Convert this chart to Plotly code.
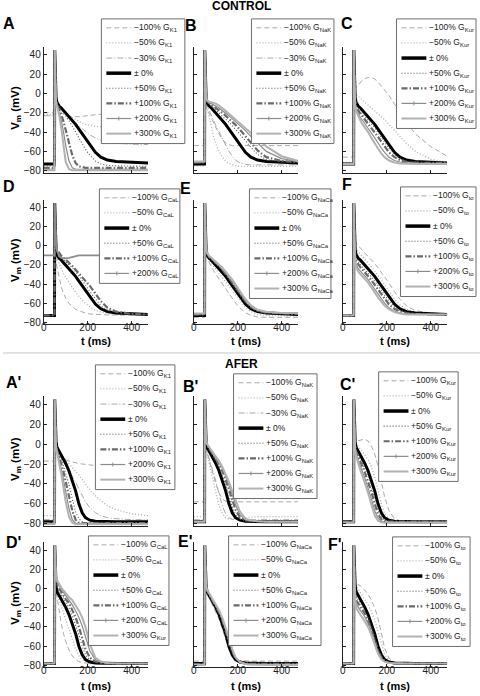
import plotly.graph_objects as go

W, H = 480, 696

# ---------------- data (time grid in ms, membrane potential in mV) ----------------
T = [0, 49, 50, 51, 53, 56, 60, 70, 80, 90, 100, 115, 130, 145, 160, 175, 190, 210, 235, 260, 290, 330, 400, 475]

CTRL_0 = [-73, -73, 45, 30, 10, -4, -9, -13, -15, -17.5, -20, -23.5, -27.5, -32, -37, -42, -47, -54, -61, -66, -69, -70.5, -71.5, -72]
AFER_0 = [-78, -78, 45, 32, 15, 3, -3, -7, -11, -15, -19.5, -27, -36, -47, -60, -69, -74, -76.5, -77.5, -77.8, -78, -78, -78, -78]

# CONTROL, G_K1
A_m100 = [-20, -20, 45, 30, 8, -8, -14, -18, -20, -21.5, -22.5, -23.5, -24, -24, -24, -23.5, -23, -22.5, -22, -21.5, -21, -20.5, -20, -19.5]
A_m50 = [-22, -22, 45, 30, 8, -6, -12, -15, -17, -19, -21, -23, -25, -27, -29, -30.5, -32, -33, -34, -34.5, -35, -35, -35, -35]
A_m30 = [-23, -23, 45, 30, 9, -5, -10, -14, -17, -19.5, -22, -25, -28, -31, -34, -37, -40, -43, -46, -48.5, -50, -51.5, -52.5, -53]
A_p50 = [-75, -75, 45, 30, 8, -5, -10, -14, -17, -20, -23, -28, -34, -40, -46, -52, -58, -64, -70, -73, -74.5, -75, -75.5, -75.5]
A_p100 = [-77, -77, 45, 30, 8, -6, -11, -16, -22, -29, -37, -51, -64, -72, -75.5, -76.5, -77, -77, -77, -77, -77, -77, -77, -77]
A_p200 = [-78.5, -78.5, 45, 29, 7, -7, -12, -19, -28, -40, -54, -70, -77, -78.5, -78.5, -78.5, -78.5, -78.5, -78.5, -78.5, -78.5, -78.5, -78.5, -78.5]
A_p300 = [-79.5, -79.5, 45, 28, 6, -8, -13, -22, -36, -55, -71, -78.5, -79.5, -79.5, -79.5, -79.5, -79.5, -79.5, -79.5, -79.5, -79.5, -79.5, -79.5, -79.5]

# CONTROL, G_NaK
B_m100 = [-54, -54, 45, 30, 8, -8, -16, -21, -26, -31, -36, -42, -47.5, -51, -53, -54, -54, -54, -54, -54, -54, -54, -54, -54]
B_m50 = [-75, -75, 45, 30, 8, -8, -14, -24, -36, -45, -52, -60, -66, -70, -72.5, -74, -75, -75.5, -75.5, -75.5, -75.5, -75.5, -75.5, -75.5]
B_m30 = [-74, -74, 45, 30, 8, -7, -12, -18, -23, -28, -33, -40, -47, -54, -60, -65, -69, -72, -73.5, -74, -74, -74, -74, -74]
B_p50 = [-72, -72, 45, 30, 10, -3, -8, -11, -13, -15, -17, -20, -23, -26, -29.5, -33, -37, -42, -49, -56, -63, -68.5, -71, -71.5]
B_p100 = [-71.5, -71.5, 45, 30, 10, -3, -8, -10.5, -12, -13.5, -15, -17.5, -20, -23, -26, -29, -32.5, -37.5, -44, -51, -59, -66, -70, -71]
B_p200 = [-71, -71, 45, 30, 10, -2, -7, -9.5, -10.5, -11.5, -13, -15, -17.5, -20, -23, -26, -29, -33, -38.5, -44.5, -51.5, -60, -67.5, -70.5]
B_p300 = [-70.5, -70.5, 45, 30, 10, -2, -7, -8.5, -9, -9.5, -10.5, -12.5, -15, -18, -21, -24, -27, -31, -36, -41, -47, -55, -65, -70]

# CONTROL, G_Kur
C_m100 = [-66, -66, 45, 35, 20, 10, 6, 9, 12, 14, 15.5, 16.5, 16.5, 15, 12, 8, 4, -2, -11, -20, -30, -42, -55, -65]
C_m50 = [-71.5, -71.5, 45, 33, 15, 3, -1, -3, -5, -7, -9, -12, -14.5, -17, -20, -23, -27, -32, -38, -44, -52, -60, -68, -71.5]
C_p50 = [-73, -73, 45, 30, 8, -7, -12, -16, -18.5, -21, -23.5, -27, -31, -35.5, -40.5, -45.5, -50.5, -57, -63, -67, -70, -71, -72, -72]
C_p100 = [-73, -73, 45, 30, 8, -8, -14, -18, -21, -24, -27, -31, -35, -40, -45, -50, -55, -61, -66, -69, -71, -72, -72, -72]
C_p200 = [-73, -73, 45, 29, 7, -10, -16, -21, -25, -28, -31, -36, -41, -46, -51.5, -56.5, -61, -66, -69.5, -71, -72, -72.5, -72.5, -72.5]
C_p300 = [-73, -73, 45, 28, 6, -12, -18, -24, -28, -32, -35, -40, -46, -52, -57, -62, -66, -69.5, -71.5, -72.5, -73, -73, -73, -73]

# CONTROL, G_CaL
D_m100 = [-73, -73, 45, 25, 0, -15, -22, -33, -43, -50, -55, -60.5, -64, -66.5, -68, -69.5, -70.5, -71.5, -72, -72.5, -72.5, -72.5, -72.5, -72.5]
D_m50 = [-73, -73, 45, 28, 5, -8, -13, -19, -24, -29, -33, -38.5, -43.5, -48.5, -53, -57, -60.5, -64, -67.5, -69.5, -71, -72, -72, -72]
D_p50 = [-73, -73, 45, 32, 12, 0, -6, -10, -12.5, -14.5, -16.5, -19.5, -23, -27, -31.5, -36, -41, -48, -56, -63, -67.5, -70, -71.5, -72]
D_p100 = [-73, -73, 45, 33, 15, 3, -4, -8, -10.5, -12.5, -14.5, -17.5, -21, -25, -29, -33, -37, -42, -50, -58, -65, -69, -71.5, -72]
D_p200 = [-10, -10, 45, 35, 18, 5, -5, -11, -12.5, -13, -13, -12.5, -11.5, -10.5, -10, -10, -10, -10, -10, -10, -10, -10, -10, -10]

# CONTROL, G_NaCa
E_m100 = [-75, -75, 45, 30, 8, -7, -13, -18, -22, -26, -30, -35, -40, -45, -50, -55, -60, -65, -70, -73, -74.5, -75, -75, -75]
E_m50 = [-74, -74, 45, 30, 9, -5, -11, -15.5, -18.5, -21.5, -24.5, -28.5, -33, -37.5, -42, -47, -52, -58, -64.5, -69, -72, -73, -73.5, -73.5]
E_p50 = [-72.5, -72.5, 45, 30, 10, -3, -8, -12, -14, -16, -18.5, -22, -26, -30, -35, -40, -45, -52, -59.5, -65, -68.5, -70.5, -71.5, -72]
E_p100 = [-72, -72, 45, 30, 10, -3, -8, -11.5, -13.5, -15.5, -18, -21, -25, -29, -33.5, -38.5, -43.5, -50.5, -58, -64, -68, -70, -71, -71.5]
E_p200 = [-71.5, -71.5, 45, 30, 10, -3, -7.5, -11, -13, -15, -17, -20, -24, -28, -32, -37, -42, -49, -57, -63.5, -67.5, -69.5, -70.5, -71]
E_p300 = [-71, -71, 45, 30, 10, -2, -7, -10.5, -12.5, -14.5, -16.5, -19.5, -23, -27, -31, -35.5, -40.5, -47.5, -56, -62.5, -67, -69, -70.5, -70.5]

# CONTROL, G_to
F_m100 = [-73, -73, 45, 35, 18, 8, 3, 0, -2.5, -5, -7.5, -11, -14.5, -18.5, -23, -27.5, -32.5, -39, -48, -56, -63, -68, -70.5, -71.5]
F_m50 = [-73, -73, 45, 33, 13, 1, -3, -6.5, -9, -11.5, -14, -17.5, -21.5, -26, -31, -36, -41, -48, -56, -62, -66.5, -69.5, -71, -71.5]
F_p50 = [-73, -73, 45, 28, 5, -9, -13, -17, -19.5, -22, -24.5, -28.5, -32.5, -37, -42, -47, -52, -58, -64, -67.5, -70, -71, -71.5, -72]
F_p100 = [-73, -73, 45, 26, 2, -12, -16, -20, -22.5, -25, -27.5, -31.5, -36, -41, -46, -51, -56, -61.5, -66, -69, -70.5, -71.5, -72, -72]
F_p200 = [-73, -73, 45, 24, 0, -15, -19, -24, -26.5, -29, -31.5, -35.5, -40.5, -45.5, -50.5, -55.5, -60, -65, -68.5, -70.5, -71.5, -72, -72, -72]
F_p300 = [-73, -73, 45, 22, -2, -18, -22, -27, -29.5, -32, -34.5, -38.5, -43.5, -49, -54, -58.5, -62.5, -66.5, -69.5, -71, -72, -72, -72, -72]

# AFER, G_K1
Ap_m100 = [-17, -17, 45, 32, 14, 2, -5, -10, -13, -15, -16, -17, -18, -19, -19.5, -20, -20.5, -21, -21.5, -22, -22, -22, -22, -22]
Ap_m50 = [-72, -72, 45, 32, 14, 2, -4, -8, -11, -13.5, -16, -19.5, -23, -27, -31, -35.5, -40, -46, -52, -57, -62, -66, -70, -72]
Ap_m30 = [-76, -76, 45, 32, 14, 2, -4, -8.5, -13, -17.5, -22, -27, -32, -38, -45, -52, -58, -64, -69, -72, -74, -75, -76, -76]
Ap_p50 = [-79, -79, 45, 32, 14, 1, -5, -10, -16, -22, -29, -41, -55, -68, -75, -78, -79, -79, -79, -79, -79, -79, -79, -79]
Ap_p100 = [-79.5, -79.5, 45, 31, 13, 0, -6, -12, -20, -28, -37, -52, -67, -76, -79, -79.5, -79.5, -79.5, -79.5, -79.5, -79.5, -79.5, -79.5, -79.5]
Ap_p200 = [-80, -80, 45, 30, 12, -1, -7, -15, -25, -36, -48, -65, -76, -79.5, -80, -80, -80, -80, -80, -80, -80, -80, -80, -80]
Ap_p300 = [-80.5, -80.5, 45, 30, 11, -2, -8, -18, -30, -44, -58, -73, -79, -80.5, -80.5, -80.5, -80.5, -80.5, -80.5, -80.5, -80.5, -80.5, -80.5, -80.5]

# AFER, G_NaK
Bp_m100 = [-58, -58, 45, 32, 14, 0, -8, -16, -24, -32, -40, -49, -55, -57.5, -58, -58, -58, -58, -58, -58, -58, -58, -58, -58]
Bp_m50 = [-73, -73, 45, 31, 12, -3, -10, -20, -30, -40, -50, -62, -70, -74, -75.5, -75.5, -75, -74.5, -74, -73.5, -73, -73, -73, -73]
Bp_m30 = [-76, -76, 45, 31, 13, -1, -7, -14, -21, -29, -37, -50, -62, -70, -74, -75.5, -76, -76, -76, -76, -76, -76, -76, -76]
Bp_p50 = [-78, -78, 45, 32, 16, 4, -2, -5.5, -9, -12.5, -16.5, -23, -31, -40.5, -52, -63, -71, -75.5, -77, -77.5, -77.8, -78, -78, -78]
Bp_p100 = [-78, -78, 45, 33, 17, 5, -1, -4.5, -7.5, -11, -14.5, -20, -27, -35.5, -45, -56, -66, -73.5, -76.5, -77.3, -77.7, -78, -78, -78]
Bp_p200 = [-78, -78, 45, 33, 18, 6, 0, -3.5, -6.5, -9.5, -13, -18, -24.5, -32, -40.5, -50.5, -61, -71, -76, -77, -77.5, -78, -78, -78]
Bp_p300 = [-78, -78, 45, 33, 18, 6, 0, -3, -6, -9, -12, -17, -23, -30, -38, -47, -57, -68, -75, -76.8, -77.5, -78, -78, -78]

# AFER, G_Kur
Cp_m100 = [-77, -77, 45, 35, 20, 8, 3, 3.5, 4.5, 5, 5, 3, -2, -10, -22, -38, -53, -67, -75, -77, -77.5, -77.5, -77.5, -77.5]
Cp_m50 = [-78, -78, 45, 33, 17, 5, 0, -2, -5, -8, -11, -16, -23, -33, -46, -60, -70, -75.5, -77.5, -78, -78, -78, -78, -78]
Cp_p50 = [-78, -78, 45, 31, 13, 0, -5, -10, -14.5, -19, -24, -32.5, -42, -54, -66, -73, -76.5, -77.5, -78, -78, -78, -78, -78, -78]
Cp_p100 = [-78, -78, 45, 30, 11, -2, -7, -13, -18, -23, -28.5, -37.5, -48, -60, -70.5, -75.5, -77.3, -78, -78, -78, -78, -78, -78, -78]
Cp_p200 = [-78.5, -78.5, 45, 29, 9, -4, -10, -17, -23, -28.5, -34, -44, -55, -67, -74.5, -77.5, -78.3, -78.5, -78.5, -78.5, -78.5, -78.5, -78.5, -78.5]
Cp_p300 = [-79, -79, 45, 28, 7, -6, -12, -20, -26.5, -32.5, -38.5, -49, -61, -71.5, -77, -78.5, -79, -79, -79, -79, -79, -79, -79, -79]

# AFER, G_CaL
Dp_m100 = [-78, -78, 45, 28, 8, -3, -8, -24, -37, -47, -55, -64, -70, -74, -76, -77, -77.5, -78, -78, -78, -78, -78, -78, -78]
Dp_m50 = [-78, -78, 45, 30, 11, 0, -5, -12, -19, -26, -33, -44, -54, -63, -70, -74, -76, -77.5, -78, -78, -78, -78, -78, -78]
Dp_p50 = [-78, -78, 45, 33, 17, 6, 1, -3, -7, -11, -15, -20, -28, -37, -48, -60, -69, -74.5, -77, -77.5, -78, -78, -78, -78]
Dp_p100 = [-78, -78, 45, 34, 19, 9, 4, 0, -4, -7.5, -11, -15, -22, -30, -40, -52, -63, -72, -76, -77.3, -78, -78, -78, -78]
Dp_p200 = [-78, -78, 45, 35, 21, 11, 7, 2.5, -1, -4, -7, -12, -17, -23, -30, -39, -50, -65, -74, -76.5, -77.5, -78, -78, -78]
Dp_p300 = [-78, -78, 45, 36, 22, 13, 9, 4.5, 1, -2, -5, -9, -12, -17, -23, -30, -40, -58, -72, -76, -77.5, -78, -78, -78]

# AFER, G_NaCa
Ep_m100 = [-75.5, -75.5, 45, 31, 13, 0, -5, -10, -14.5, -19, -24, -32, -42, -53, -64, -71, -74, -75, -75.5, -75.5, -75.5, -75.5, -75.5, -75.5]
Ep_m50 = [-77, -77, 45, 32, 14, 2, -4, -8.5, -12.5, -17, -21.5, -29.5, -39, -50, -62, -70, -74, -76, -76.8, -77, -77, -77, -77, -77]
Ep_p50 = [-78.3, -78.3, 45, 32, 15, 3, -2.5, -6.5, -10.5, -14.5, -18.5, -25.5, -34, -44.5, -57, -67, -73, -76.5, -77.8, -78.2, -78.3, -78.3, -78.3, -78.3]
Ep_p100 = [-78.5, -78.5, 45, 32, 15, 3.5, -2, -6, -10, -14, -18, -24.5, -33, -43, -55, -65.5, -72.5, -76.5, -78, -78.4, -78.5, -78.5, -78.5, -78.5]
Ep_p200 = [-79, -79, 45, 32, 16, 4, -1.5, -5.5, -9.5, -13, -17, -23.5, -31.5, -41.5, -53, -64, -72, -76.5, -78.3, -78.8, -79, -79, -79, -79]
Ep_p300 = [-79.5, -79.5, 45, 33, 16, 4.5, -1, -5, -9, -12.5, -16, -22.5, -30.5, -40, -51.5, -63, -71.5, -76.5, -78.5, -79.2, -79.5, -79.5, -79.5, -79.5]

# AFER, G_to
Fp_m100 = [-78, -78, 45, 36, 22, 12, 7, 4, 3, 1, -1.5, -6, -12, -20, -31, -46, -62, -72.5, -76.5, -77.5, -78, -78, -78, -78]
Fp_m50 = [-78, -78, 45, 34, 18, 8, 3, -1.5, -4.5, -8, -11.5, -17, -24, -33, -45, -58, -68.5, -75, -77.3, -77.8, -78, -78, -78, -78]
Fp_p50 = [-78, -78, 45, 30, 11, -3, -8, -11.5, -15, -18.5, -23, -30.5, -39.5, -50.5, -62.5, -70.5, -75, -77, -77.7, -78, -78, -78, -78, -78]
Fp_p100 = [-78, -78, 45, 29, 9, -6, -12, -15.5, -19, -22, -26, -33.5, -42.5, -53.5, -64.5, -71.5, -75.5, -77.2, -77.8, -78, -78, -78, -78, -78]
Fp_p200 = [-78, -78, 45, 28, 7, -9, -16, -20, -23, -26, -29.5, -36.5, -45.5, -56, -66.5, -72.5, -76, -77.3, -77.8, -78, -78, -78, -78, -78]
Fp_p300 = [-78, -78, 45, 27, 5, -12, -20, -24.5, -27.5, -30.5, -34, -40, -48.5, -58, -68, -73.5, -76.3, -77.5, -77.9, -78, -78, -78, -78, -78]

X_TICKS = [0, 200, 400]
Y_TICKS = [-80, -60, -40, -20, 0, 20, 40]

LEVEL_TEXT = {'m100': '\u2212100%', 'm50': '\u221250%', 'm30': '\u221230%', '0': '\u00b1 0%',
              'p50': '+50%', 'p100': '+100%', 'p200': '+200%', 'p300': '+300%'}

PANELS = [
    ("A", 0, 0, "K1", [("m100", A_m100), ("m50", A_m50), ("m30", A_m30), ("0", CTRL_0), ("p50", A_p50), ("p100", A_p100), ("p200", A_p200), ("p300", A_p300)]),
    ("B", 0, 1, "NaK", [("m100", B_m100), ("m50", B_m50), ("m30", B_m30), ("0", CTRL_0), ("p50", B_p50), ("p100", B_p100), ("p200", B_p200), ("p300", B_p300)]),
    ("C", 0, 2, "Kur", [("m100", C_m100), ("m50", C_m50), ("0", CTRL_0), ("p50", C_p50), ("p100", C_p100), ("p200", C_p200), ("p300", C_p300)]),
    ("D", 1, 0, "CaL", [("m100", D_m100), ("m50", D_m50), ("0", CTRL_0), ("p50", D_p50), ("p100", D_p100), ("p200", D_p200)]),
    ("E", 1, 1, "NaCa", [("m100", E_m100), ("m50", E_m50), ("0", CTRL_0), ("p50", E_p50), ("p100", E_p100), ("p200", E_p200), ("p300", E_p300)]),
    ("F", 1, 2, "to", [("m100", F_m100), ("m50", F_m50), ("0", CTRL_0), ("p50", F_p50), ("p100", F_p100), ("p200", F_p200), ("p300", F_p300)]),
    ("A'", 2, 0, "K1", [("m100", Ap_m100), ("m50", Ap_m50), ("m30", Ap_m30), ("0", AFER_0), ("p50", Ap_p50), ("p100", Ap_p100), ("p200", Ap_p200), ("p300", Ap_p300)]),
    ("B'", 2, 1, "NaK", [("m100", Bp_m100), ("m50", Bp_m50), ("m30", Bp_m30), ("0", AFER_0), ("p50", Bp_p50), ("p100", Bp_p100), ("p200", Bp_p200), ("p300", Bp_p300)]),
    ("C'", 2, 2, "Kur", [("m100", Cp_m100), ("m50", Cp_m50), ("0", AFER_0), ("p50", Cp_p50), ("p100", Cp_p100), ("p200", Cp_p200), ("p300", Cp_p300)]),
    ("D'", 3, 0, "CaL", [("m100", Dp_m100), ("m50", Dp_m50), ("0", AFER_0), ("p50", Dp_p50), ("p100", Dp_p100), ("p200", Dp_p200), ("p300", Dp_p300)]),
    ("E'", 3, 1, "NaCa", [("m100", Ep_m100), ("m50", Ep_m50), ("0", AFER_0), ("p50", Ep_p50), ("p100", Ep_p100), ("p200", Ep_p200), ("p300", Ep_p300)]),
    ("F'", 3, 2, "to", [("m100", Fp_m100), ("m50", Fp_m50), ("0", AFER_0), ("p50", Fp_p50), ("p100", Fp_p100), ("p200", Fp_p200), ("p300", Fp_p300)]),
]
LABEL_SUB_OVERRIDE = {("D'", "p300"): "Kur"}   # as printed in the original legend

# ---------------- styles & layout geometry (pixels) ----------------
STYLE = {
    'm100': dict(color='#aaaaaa', width=1, dash='5px,3px'),
    'm50': dict(color='#b0b0b0', width=1.3, dash='1px,2px'),
    'm30': dict(color='#aaaaaa', width=1, dash='6px,2px,1px,2px'),
    '0': dict(color='#000000', width=3, dash='solid'),
    'p50': dict(color='#555555', width=1.1, dash='1px,2px'),
    'p100': dict(color='#6a6a6a', width=2.2, dash='6px,2px,1.5px,2px'),
    'p200': dict(color='#8c8c8c', width=1.2, dash='solid'),
    'p300': dict(color='#b2b2b2', width=2, dash='solid'),
}
WIDTH_OVERRIDE = {("D", "p200"): 1.8}
COLS = [(41, 146), (192, 297), (342, 447)]
ROWS = [(47.5, 173.6), (201.3, 325.9), (398.7, 528.7), (545.6, 671.2)]
X_RANGE = [0, 475]
Y_RANGE = [-82, 48]
LEGEND_BOX = {  # x0, x1, top
    "A": (99, 183, 19), "B": (250, 333, 19), "C": (396, 476, 19),
    "D": (97, 178, 190), "E": (248, 330, 190), "F": (400, 476, 188),
    "A'": (93, 173, 367), "B'": (232, 316, 376), "C'": (378, 458, 374),
    "D'": (86, 167, 539), "E'": (227, 320, 539), "F'": (392, 470, 540),
}
LETTER_POS = {
    "A": (6, 24), "B": (189, 26), "C": (346, 24), "D": (6, 188), "E": (184, 190), "F": (346, 186),
    "A'": (11, 385), "B'": (189, 389), "C'": (347, 387), "D'": (11, 546), "E'": (183, 545), "F'": (334, 548),
}
ROW_STEP = 15.2
FONT = "Liberation Sans, Arial, sans-serif"


def fx(px):
    return px / W


def fy(py):
    return 1 - py / H


for _, _, _, _, curves in PANELS:
    for _, vals in curves:
        assert len(vals) == len(T)

fig = go.Figure()
shapes = []
annotations = []

for i, (letter, r, c, sub, curves) in enumerate(PANELS, start=1):
    xname = 'x' if i == 1 else f'x{i}'
    yname = 'y' if i == 1 else f'y{i}'
    for lvl, vals in curves:
        st = STYLE[lvl]
        fig.add_trace(go.Scatter(x=T, y=vals, mode='lines', xaxis=xname, yaxis=yname,
                                 line=dict(color=st['color'], width=WIDTH_OVERRIDE.get((letter, lvl), st['width']),
                                           dash=st['dash']),
                                 showlegend=False, hoverinfo='skip'))
    c0, c1 = COLS[c]
    r0, r1 = ROWS[r]
    axis_common = dict(showline=True, linecolor='#222', linewidth=1, ticks='inside', ticklen=3,
                       tickcolor='#222', tickwidth=1, showgrid=False, zeroline=False,
                       tickfont=dict(family=FONT, size=10, color='#222'))
    fig.layout['xaxis' if i == 1 else f'xaxis{i}'] = dict(
        domain=[fx(c0), fx(c1)], range=X_RANGE, anchor=yname, tickvals=X_TICKS,
        showticklabels=(r in (1, 3)), ticklabelstandoff=-6, **axis_common)
    fig.layout['yaxis' if i == 1 else f'yaxis{i}'] = dict(
        domain=[fy(r1), fy(r0)], range=Y_RANGE, anchor=xname, tickvals=Y_TICKS,
        showticklabels=(c == 0), **axis_common)

    # panel letter
    lx, ly = LETTER_POS[letter]
    annotations.append(dict(x=fx(lx), y=fy(ly), xref='paper', yref='paper', text=f'<b>{letter}</b>',
                            showarrow=False, xanchor='center', yanchor='middle',
                            font=dict(family=FONT, size=16, color='#000')))

    # legend box
    bx0, bx1, btop = LEGEND_BOX[letter]
    n = len(curves)
    bbot = btop + 9 + ROW_STEP * (n - 1) + 10
    shapes.append(dict(type='rect', xref='paper', yref='paper', x0=fx(bx0), x1=fx(bx1),
                       y0=fy(bbot), y1=fy(btop), line=dict(color='#6e6e6e', width=1),
                       fillcolor='white', layer='above'))
    for k, (lvl, _) in enumerate(curves):
        yc = btop + 9 + ROW_STEP * k
        st = STYLE[lvl]
        shapes.append(dict(type='line', xref='paper', yref='paper', x0=fx(bx0 + 5), x1=fx(bx0 + 30),
                           y0=fy(yc), y1=fy(yc), layer='above',
                           line=dict(color=st['color'], width=st['width'] + (0.5 if lvl == '0' else 0), dash=st['dash'])))
        if lvl == 'p200':
            shapes.append(dict(type='line', xref='paper', yref='paper', x0=fx(bx0 + 17.5), x1=fx(bx0 + 17.5),
                               y0=fy(yc - 2), y1=fy(yc + 2), layer='above',
                               line=dict(color=st['color'], width=1)))
        s = LABEL_SUB_OVERRIDE.get((letter, lvl), sub)
        txt = LEVEL_TEXT[lvl] if lvl == '0' else f'{LEVEL_TEXT[lvl]} G<sub>{s}</sub>'
        annotations.append(dict(x=fx(bx0 + 31), y=fy(yc), xref='paper', yref='paper', text=txt,
                                showarrow=False, xanchor='left', yanchor='middle',
                                font=dict(family=FONT, size=8.5, color='#222')))

# axis titles
for r in range(4):
    r0, r1 = ROWS[r]
    annotations.append(dict(x=fx(13), y=fy((r0 + r1) / 2 - 2), xref='paper', yref='paper',
                            text='<b>V<sub>m</sub> (mV)</b>', textangle=-90, showarrow=False,
                            xanchor='center', yanchor='middle', font=dict(family=FONT, size=11.5, color='#000')))
for ty in (343, 690):
    for c0, c1 in COLS:
        annotations.append(dict(x=fx((c0 + c1) / 2), y=fy(ty), xref='paper', yref='paper',
                                text='<b>t (ms)</b>', showarrow=False, xanchor='center', yanchor='middle',
                                font=dict(family=FONT, size=11, color='#000')))

# section titles and separator
annotations.append(dict(x=fx(240), y=fy(6), xref='paper', yref='paper', text='<b>CONTROL</b>',
                        showarrow=False, xanchor='center', yanchor='middle',
                        font=dict(family=FONT, size=12, color='#000')))
annotations.append(dict(x=fx(240), y=fy(366), xref='paper', yref='paper', text='<b>AFER</b>',
                        showarrow=False, xanchor='center', yanchor='middle',
                        font=dict(family=FONT, size=12, color='#000')))
shapes.append(dict(type='line', xref='paper', yref='paper', x0=0, x1=1, y0=fy(355), y1=fy(355),
                   line=dict(color='#c8c8c8', width=1), layer='below'))

fig.update_layout(width=W, height=H, autosize=False, margin=dict(l=0, r=0, t=0, b=0),
                  paper_bgcolor='white', plot_bgcolor='white', showlegend=False,
                  shapes=shapes, annotations=annotations,
                  font=dict(family=FONT, size=10, color='#222'))

fig.write_html("out.html", config={'displayModeBar': False, 'staticPlot': True},
               post_script="document.body.style.margin='0';document.body.style.overflow='hidden';")
